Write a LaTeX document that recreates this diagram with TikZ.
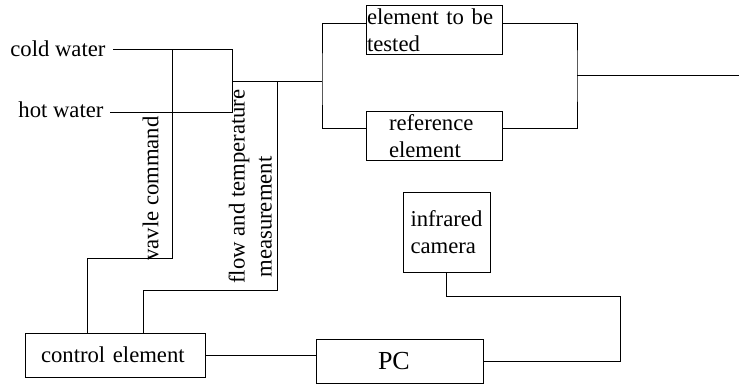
\documentclass[tikz,border=0pt]{standalone}
\usepackage{fontspec}
\setmainfont{Liberation Serif}
\begin{document}
\begin{tikzpicture}[x=1pt,y=-1pt,line width=1pt,
  txt/.style={font=\fontsize{22.7}{27}\selectfont,inner sep=0pt},
  box/.style={draw,font=\fontsize{22.7}{27}\selectfont,inner sep=1pt,align=left}]
\useasboundingbox (0,0) rectangle (739,385);

% water inlets
\node[txt,anchor=base east] (cw) at (106,57) {cold water};
\node[txt,anchor=base east] (hw) at (104,118) {hot water};
\coordinate (cwin) at (113,49.5);
\coordinate (hwin) at (110,113);

% boxes
\node[box,minimum width=136,minimum height=49,text width=134] (t1) at (434,30.5) {element to be\\tested};
\node[box,minimum width=136,minimum height=49,text width=90] (t2) at (434,136.5) {reference\\element};
\node[box,minimum width=87,minimum height=80,text width=72] (cam) at (446.5,232) {infrared\\camera};
\node[box,minimum width=180,minimum height=44,text width=148] (ctrl) at (115,355) {control element};
\node[box,minimum width=167,minimum height=44,text width=43,font=\fontsize{26}{30}\selectfont] (pc) at (399.5,361) {PC};

% junctions and bends
\coordinate (jA) at (172,49.5);
\coordinate (jB) at (232,49.5);
\coordinate (jC) at (232,113);
\coordinate (jM) at (232,82);
\coordinate (jT) at (277,82);
\coordinate (jS) at (322,82);
\coordinate (jR) at (577,76);
\coordinate (out) at (739,76);
\coordinate (vcTurn) at (87,258);
\coordinate (fmTurn) at (143,290);
\coordinate (camTurn) at (620,296);

% piping
\draw (cwin) -- (jB) -- (jC);
\draw (hwin) -- (jC);
\draw (jM) -- (jS);
\draw ([yshift=6.5pt]t1.west) -| (jS) |- ([yshift=7.5pt]t2.west);
\draw ([yshift=6.5pt]t1.east) -| (jR) |- ([yshift=7.5pt]t2.east);
\draw (jR) -- (out);

% signal lines
\draw (jA) |- (vcTurn) -- (vcTurn |- ctrl.north);
\draw (jT) |- (fmTurn) -- (fmTurn |- ctrl.north);
\draw (cam.south) |- (camTurn) |- (pc.east);
\draw (ctrl.east) -- (ctrl.east -| pc.west);

% signal labels
\node[txt,rotate=90] (vc) at (150.5,188.5) {vavle command};
\node[txt,rotate=90,align=left] (ft) at (250.25,186.5) {flow and temperature\\\hspace*{6pt}measurement};
\end{tikzpicture}
\end{document}
